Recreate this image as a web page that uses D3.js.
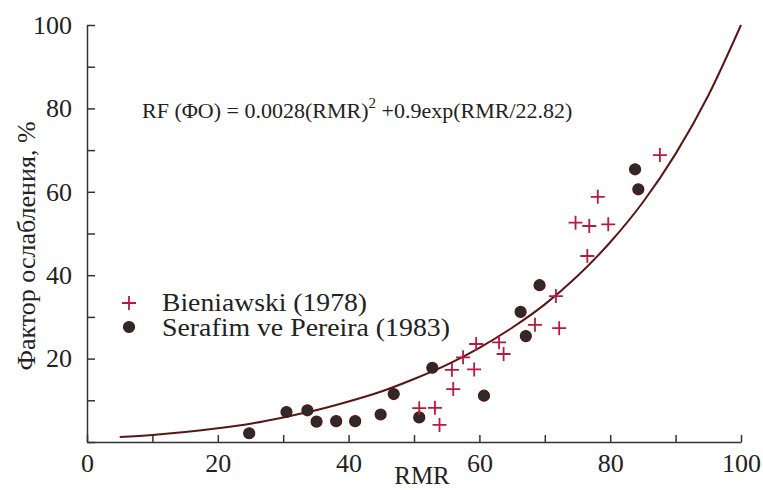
<!DOCTYPE html>
<html>
<head>
<meta charset="utf-8">
<script src="https://cdn.jsdelivr.net/npm/d3@7"></script>
<style>
  body { margin: 0; background: #fff; }
  text { font-family: "Liberation Serif", "Times New Roman", serif; fill: #222; }
</style>
</head>
<body>
<div class="chart"></div>
<script>
// Bieniawski (1978) points - RMR / factor, %
var bieniawskiRMR = [50.8, 53.2, 53.9, 55.8, 56.0, 57.5, 59.5, 59.2, 63.0, 63.7, 68.5, 71.7, 72.2, 76.5, 74.7, 76.8, 79.7, 78.1, 87.6];
var bieniawskiRF  = [8.1, 8.2, 4.1, 17.3, 12.7, 20.3, 23.5, 17.4, 23.9, 21.1, 28.1, 35.0, 27.3, 44.6, 52.6, 51.8, 52.2, 58.8, 68.8];

// Serafim ve Pereira (1983) points
var serafimRMR = [24.8, 30.5, 33.7, 35.1, 38.1, 41.0, 44.9, 46.9, 50.8, 52.8, 60.7, 66.3, 67.1, 69.2, 83.8, 84.3];
var serafimRF  = [2.1, 7.2, 7.6, 4.9, 5.0, 5.0, 6.6, 11.5, 5.9, 17.8, 11.1, 31.2, 25.4, 37.6, 65.4, 60.6];

// fitted curve
var curveRMR = [5, 10, 15, 20, 25, 30, 35, 40, 45, 50, 55, 60, 65, 70, 75, 80, 85, 90, 95, 100];
var curveRF  = [1.2, 1.7, 2.4, 3.3, 4.4, 5.9, 7.6, 9.7, 12.1, 15.1, 18.5, 22.6, 27.4, 33.0, 39.8, 47.9, 57.5, 69.1, 83.1, 100];

// tick labels
var xTickLabels = [0, 20, 40, 60, 80, 100];
var yTickLabels = [20, 40, 60, 80, 100];

var legendNames = ["Bieniawski (1978)", "Serafim ve Pereira (1983)"];

(function () {

  var width = 763, height = 490;
  var serif = "'Liberation Serif', 'Times New Roman', serif";

  var svg = d3.select(".chart")
    .append("svg")
    .attr("width", width)
    .attr("height", height);

  var x = d3.scaleLinear().domain([0, 100]).range([87, 741]);
  var y = d3.scaleLinear().domain([0, 100]).range([442, 25]);

  var crossColor = "#bb1840";
  var curveColor = "#5a1616";

  // x axis - inward ticks every 10, labels every 20
  var xAxis = d3.axisBottom(x)
    .tickValues(d3.range(0, 101, 10))
    .tickSizeInner(-7)
    .tickSizeOuter(0)
    .tickPadding(12)
    .tickFormat(function (d) { return xTickLabels.indexOf(d) >= 0 ? d : ""; });

  var gx = svg.append("g")
    .attr("transform", "translate(0," + y(0) + ")")
    .call(xAxis);

  // y axis
  var yAxis = d3.axisLeft(y)
    .tickValues(d3.range(0, 101, 10))
    .tickSizeInner(-8)
    .tickSizeOuter(0)
    .tickPadding(15)
    .tickFormat(function (d) { return yTickLabels.indexOf(d) >= 0 ? d : ""; });

  var gy = svg.append("g")
    .attr("transform", "translate(" + x(0) + ",0)")
    .call(yAxis);

  svg.selectAll(".domain, .tick line")
    .attr("stroke", "#333")
    .attr("stroke-width", 1.5);

  // axis titles
  svg.append("text")
    .attr("x", 422)
    .attr("y", 484)
    .attr("text-anchor", "middle")
    .style("font-size", "25px")
    .text("RMR");

  svg.append("text")
    .attr("transform", "translate(35,246) rotate(-90)")
    .attr("text-anchor", "middle")
    .style("font-size", "26px")
    .text("Фактор ослабления, %");

  // curve
  var line = d3.line()
    .x(function (d, i) { return x(curveRMR[i]); })
    .y(function (d) { return y(d); })
    .curve(d3.curveMonotoneX);

  svg.append("path")
    .datum(curveRF)
    .attr("d", line)
    .attr("fill", "none")
    .attr("stroke", curveColor)
    .attr("stroke-width", 2);

  // circles
  svg.append("g")
    .selectAll("circle")
    .data(serafimRF)
    .enter()
    .append("circle")
    .attr("cx", function (d, i) { return x(serafimRMR[i]); })
    .attr("cy", function (d) { return y(d); })
    .attr("r", 5.5)
    .attr("fill", "#2b2b2b")
    .attr("stroke", "#5a0f0f")
    .attr("stroke-width", 1.2);

  // crosses
  var cross = "M-7,0H7M0,-7V7";
  svg.append("g")
    .selectAll("path")
    .data(bieniawskiRF)
    .enter()
    .append("path")
    .attr("transform", function (d, i) {
      return "translate(" + x(bieniawskiRMR[i]) + "," + y(d) + ")";
    })
    .attr("d", cross)
    .attr("stroke", crossColor)
    .attr("stroke-width", 1.8)
    .attr("fill", "none");

  // equation
  var eq = svg.append("text")
    .attr("x", 142)
    .attr("y", 118)
    .style("font-size", "22px");
  eq.append("tspan").text("RF (ΦO) = 0.0028(RMR)");
  eq.append("tspan").attr("dy", -10).style("font-size", "15px").text("2");
  eq.append("tspan").attr("dy", 10).text(" +0.9exp(RMR/22.82)");

  // legend
  var legend = svg.append("g");
  legend.append("path")
    .attr("transform", "translate(129,303)")
    .attr("d", cross)
    .attr("stroke", crossColor)
    .attr("stroke-width", 1.8);
  legend.append("circle")
    .attr("cx", 129)
    .attr("cy", 327)
    .attr("r", 5.5)
    .attr("fill", "#2b2b2b")
    .attr("stroke", "#5a0f0f")
    .attr("stroke-width", 1.2);

  legend.selectAll("text")
    .data(legendNames)
    .enter()
    .append("text")
    .attr("x", 162)
    .attr("y", function (d, i) { return 311 + i * 25; })
    .style("font-size", "25px")
    .attr("textLength", function (d, i) { return i === 0 ? 205 : 288; })
    .attr("lengthAdjust", "spacingAndGlyphs")
    .text(function (d) { return d; });

  // force the serif face on every text, axis ones included
  svg.selectAll("text")
    .style("font-family", serif)
    .attr("fill", "#222");
  gx.selectAll(".tick text").style("font-size", "26px");
  gy.selectAll(".tick text").style("font-size", "26px");

})();
</script>
</body>
</html>
